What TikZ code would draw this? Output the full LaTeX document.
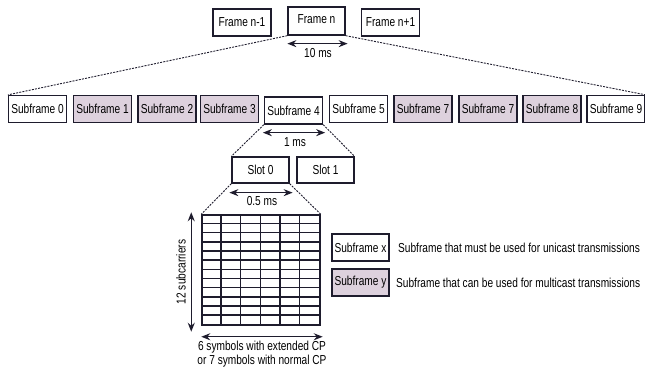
\documentclass[tikz,border=0pt]{standalone}
\usepackage{fontspec}
\setmainfont[FakeStretch=0.78]{Liberation Sans}
\usetikzlibrary{arrows.meta,calc}
\definecolor{edge}{RGB}{30,28,45}
\definecolor{mcast}{RGB}{221,209,221}
\begin{document}
\begin{tikzpicture}[x=1pt,y=-1pt,
  box/.style={draw=edge,line width=1.3pt,fill=white,minimum width=58pt,minimum height=27pt,inner sep=0pt,font=\fontsize{13}{15}\selectfont},
  mbox/.style={box,fill=mcast},
  dashline/.style={dash pattern=on 2pt off 1.2pt,line width=0.9pt,edge},
  span/.style={{Stealth[length=9pt,width=7pt]}-{Stealth[length=9pt,width=7pt]},line width=1.4pt,edge},
  lbl/.style={font=\fontsize{13}{15}\selectfont,inner sep=0pt},
  gridline/.style={line width=1.5pt,edge}]
\useasboundingbox (0,0) rectangle (645,368);

% radio frames
\node[box] (fm) at (242,22.5) {Frame n-1};
\node[box,minimum width=57pt,minimum height=28pt] (fn) at (316.5,21) {\raisebox{3pt}{Frame n}};
\node[box] (fp) at (390.5,22.5) {Frame n+1};

% subframes
\node[box]  (sf0) at (37.5,109)  {Subframe 0};
\node[mbox] (sf1) at (102.5,109) {Subframe 1};
\node[mbox] (sf2) at (167,109)   {Subframe 2};
\node[mbox] (sf3) at (229.5,109) {Subframe 3};
\node[box]  (sf4) at (293.5,110.5) {Subframe 4};
\node[box]  (sf5) at (358.5,109) {Subframe 5};
\node[mbox] (sf6) at (423,109)   {Subframe 7};
\node[mbox] (sf7) at (488,109)   {Subframe 7};
\node[mbox] (sf8) at (552,109)   {Subframe 8};
\node[box]  (sf9) at (616,109)   {Subframe 9};

% slots
\node[box,minimum width=57pt,minimum height=26pt] (s0) at (260.5,170) {Slot 0};
\node[box,minimum width=57pt,minimum height=26pt] (s1) at (325.5,170) {Slot 1};

% resource grid: 6 symbols x 12 subcarriers
\node[draw=edge,line width=1.5pt,minimum width=118pt,minimum height=110pt,inner sep=0pt] (grid) at (261,270) {};
\foreach \i in {1,...,5}
  \draw[gridline] ($(grid.north west)+(\i*118/6,0)$) -- ($(grid.south west)+(\i*118/6,0)$);
\foreach \j in {1,...,11}
  \draw[gridline] ($(grid.north west)+(0,\j*110/12)$) -- ($(grid.north east)+(0,\j*110/12)$);

% zoom-in dashed guides
\draw[dashline] (fn.south west) -- (sf0.north west);
\draw[dashline] (fn.south east) -- (sf9.north east);
\draw[dashline] (sf4.south west) -- (s0.north west);
\draw[dashline] (sf4.south east) -- (s1.north east);
\draw[dashline] (s0.south west) -- (grid.north west);
\draw[dashline] (s0.south east) -- (grid.north east);

% durations
\coordinate (t10a) at ($(fn.south west)+(0,8)$);
\coordinate (t10b) at ($(fn.south east)+(2,8)$);
\draw[span] (t10a) -- (t10b);
\node[lbl] (t10) at (318,53) {10 ms};

\coordinate (t1a) at ($(sf4.south west)+(-1,8)$);
\coordinate (t1b) at ($(sf4.south east)+(2,8)$);
\draw[span] (t1a) -- (t1b);
\node[lbl] (t1) at (295,142) {1 ms};

\coordinate (t05a) at ($(s0.south west)+(-2,9)$);
\coordinate (t05b) at ($(s0.south east)+(3,9)$);
\draw[span] (t05a) -- (t05b);
\node[lbl] (t05) at (262,201) {0.5 ms};

% grid dimensions
\coordinate (fa) at ($(grid.north west)+(-10,-2)$);
\coordinate (fb) at ($(grid.south west)+(-10,6)$);
\draw[span] (fa) -- (fb);
\node[lbl,rotate=90] (fq) at (181,272) {12 subcarriers};

\coordinate (ta) at ($(grid.south west)+(0,11)$);
\coordinate (tb) at ($(grid.south east)+(2,11)$);
\draw[span] (ta) -- (tb);
\node[lbl,align=center] (tq) at (262,354.5) {6 symbols with extended CP\\[-1pt]or 7 symbols with normal CP};

% legend
\node[box,minimum width=57pt] (lx) at (360.5,247.5) {Subframe x};
\node[lbl,anchor=west] (lxt) at (398,247.5) {Subframe that must be used for unicast transmissions};
\node[mbox,minimum width=57pt] (ly) at (360.5,282.5) {Subframe y};
\node[lbl,anchor=west] (lyt) at (396,282.5) {Subframe that can be used for multicast transmissions};
\end{tikzpicture}
\end{document}
